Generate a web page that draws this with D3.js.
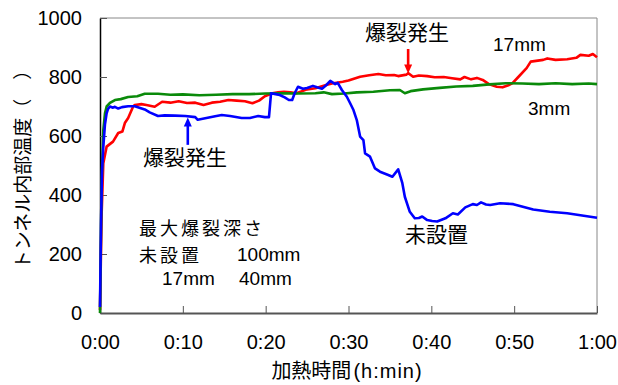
<!DOCTYPE html>
<html><head><meta charset="utf-8">
<script src="https://cdn.jsdelivr.net/npm/d3@7/dist/d3.min.js"></script>
<style>body{margin:0;background:#fff}svg{display:block}</style>
</head><body><svg id="c" width="618" height="385"></svg>
<script>
// time in minutes, temperature in °C
const blue = [[0,20],[0.12,300],[0.24,480],[0.4,564],[0.6,640],[0.8,677],[0.97,692],[1.2,700],[1.57,696],[1.8,699],[2.2,693],[2.66,698],[3.4,701],[4.2,701],[5.4,690],[6.0,680],[7.0,668],[7.8,670],[9.05,669],[10.3,668],[11.5,664],[11.8,655],[12.7,660],[13.9,667],[14.7,671],[15.7,668],[17.1,661],[18.1,661],[19.1,668],[19.9,664],[20.4,664],[20.65,745],[21.2,742],[21.7,739],[22.3,731],[22.8,722],[23.2,722],[23.5,745],[23.9,767],[24.5,760],[25.0,763],[25.7,770],[26.2,765],[26.8,760],[27.3,772],[27.8,787],[28.4,776],[28.7,780],[29.2,756],[29.8,733],[30.2,711],[30.6,688],[31.0,654],[31.4,598],[31.8,586],[32.0,541],[32.6,530],[33.2,490],[33.8,479],[34.8,468],[35.3,462],[36.0,487],[36.5,440],[36.8,394],[37.4,343],[38.0,321],[38.5,322],[38.9,327],[39.5,315],[40.1,312],[40.7,310],[41.7,321],[42.6,338],[43.2,334],[44.1,358],[45.0,369],[45.5,366],[46.0,375],[46.6,368],[47.1,366],[48.3,372],[49.9,369],[52.3,351],[54.3,343],[56.4,338],[60,323]];
const red = [[0,10],[0.2,338],[0.4,508],[0.8,564],[1.57,581],[2.2,610],[2.7,615],[3.0,644],[3.4,661],[4.0,700],[4.2,705],[5.0,708],[5.6,705],[6.6,699],[7.5,716],[8.5,713],[9.5,718],[10.5,712],[11.5,713],[12.5,705],[13.5,713],[14.5,716],[15.5,722],[16.5,720],[17.5,718],[18.4,711],[19.2,720],[19.9,735],[20.8,745],[21.5,748],[22.2,750],[23.0,748],[23.7,745],[25.0,758],[26.0,762],[27.3,773],[28.0,778],[29.3,784],[30.0,788],[31.4,801],[32.5,806],[33.6,810],[34.5,806],[35.5,807],[36.0,803],[37.0,808],[37.2,813],[37.8,801],[38.5,805],[39.5,803],[40.4,799],[41.5,800],[42.5,796],[43.5,792],[44.0,800],[44.8,792],[45.5,797],[46.2,790],[47.0,775],[47.9,767],[48.6,765],[49.3,772],[49.8,779],[50.5,800],[51.5,830],[52.0,852],[53.5,858],[54.0,863],[55.0,858],[56.4,860],[57.5,865],[58.0,875],[59.0,872],[59.5,878],[60.0,867]];
const green = [[0,0],[0.2,450],[0.4,620],[0.6,677],[0.8,700],[1.2,712],[1.8,722],[2.5,725],[3.4,732],[4.5,735],[5.4,743],[7,743],[8.5,740],[10,741],[12,738],[14,740],[16,742],[18,742],[20,744],[22,745],[24,744],[26,745],[27,748],[28,742],[29.5,744],[31,748],[33,750],[35,755],[36.2,756],[36.8,745],[37.5,752],[39,758],[41,763],[43,768],[45,770],[47,775],[49,779],[51,778],[53,776],[55,779],[57,776],[59,778],[60,776]];
const xTicks = [0,10,20,30,40,50,60];
const xTickLabels = ["0:00","0:10","0:20","0:30","0:40","0:50","1:00"];
const yTicks = [0,200,400,600,800,1000];
const yTickLabels = ["0","200","400","600","800","1000"];
const yLabel = "トンネル内部温度（　）";
const xLabelMain = "加熱時間";
const xLabelUnit = "(h:min)";
const legendLines = ["最大爆裂深さ","未設置","100mm","17mm","40mm"];
const labels = {burstBlue:"爆裂発生", burstRed:"爆裂発生", s17:"17mm", s3:"3mm", none:"未設置"};

const svg = d3.select("#c");
const L=100,R=597,T=18,B=313;
const x = d3.scaleLinear().domain([0,60]).range([L,R]);
const y = d3.scaleLinear().domain([0,1000]).range([B,T]);
const lat = "'Liberation Sans', Arial, sans-serif";
const cjk = "'Noto Sans CJK JP', sans-serif";

// frame
svg.append("line").attr("x1",L).attr("x2",R).attr("y1",T).attr("y2",T).attr("stroke","#888").attr("stroke-width",1);
svg.append("line").attr("x1",R).attr("x2",R).attr("y1",T).attr("y2",B).attr("stroke","#888").attr("stroke-width",1);

// y axis
const ya = svg.append("g").attr("transform",`translate(${L},0)`)
  .call(d3.axisLeft(y).tickValues(yTicks).tickFormat((d,i)=>yTickLabels[i]).tickSizeInner(-7).tickSizeOuter(0).tickPadding(18));
ya.select(".domain").attr("stroke","#000").attr("stroke-width",1.5);
ya.selectAll(".tick line").attr("stroke","#555");
ya.selectAll(".tick text").attr("font-family",lat).attr("font-size",20).attr("fill","#000");
// x axis
const xa = svg.append("g").attr("transform",`translate(0,${B})`)
  .call(d3.axisBottom(x).tickValues(xTicks).tickFormat((d,i)=>xTickLabels[i]).tickSizeInner(-7).tickSizeOuter(0).tickPadding(22));
xa.select(".domain").attr("stroke","#555").attr("stroke-width",2);
xa.selectAll(".tick line").attr("stroke","#555");
xa.selectAll(".tick text").attr("font-family",lat).attr("font-size",20).attr("fill","#000");

// lines
const line = d3.line().x(d=>x(d[0])).y(d=>y(d[1]));
[[red,"#ff0000"],[green,"#0a8a0a"],[blue,"#0000ff"]].forEach(([d,c])=>{
  svg.append("path").datum(d).attr("d",line).attr("fill","none").attr("stroke",c).attr("stroke-width",2.6).attr("stroke-linejoin","round");
});

// arrows
function arrow(xm, t0, t1, color){
  const X=x(xm), Y0=y(t0), Y1=y(t1);
  const dir = Y1<Y0 ? 1 : -1;
  svg.append("line").attr("x1",X).attr("x2",X).attr("y1",Y0).attr("y2",Y1+dir*6).attr("stroke",color).attr("stroke-width",2.6);
  svg.append("path").attr("d",`M${X},${Y1} L${X-4},${Y1+dir*9} L${X+4},${Y1+dir*9} Z`).attr("fill",color);
}
arrow(10.6, 570, 663, "#0000ff");
arrow(37.2, 895, 812, "#ff0000");

function txt(s,X,Y,fam,size,ls){
  svg.append("text").attr("x",X).attr("y",Y).attr("font-family",fam).attr("font-size",size).attr("letter-spacing",ls||0).attr("fill","#000").text(s);
}
txt(labels.burstBlue,143,165,cjk,21);
txt(labels.burstRed,365,40,cjk,21);
txt(labels.s17,493,51,lat,19);
txt(labels.s3,528,115,lat,19);
txt(labels.none,405,242,cjk,21);

// legend block
txt(legendLines[0],139,235,cjk,18,3);
txt(legendLines[1],139,262,cjk,18,3);
txt(legendLines[2],237,261,lat,19);
txt(legendLines[3],162,285,lat,19);
txt(legendLines[4],239,285,lat,19);

// axis titles
svg.append("text").attr("transform","translate(30,165) rotate(-90)").attr("text-anchor","middle")
  .attr("font-family",cjk).attr("font-size",19).attr("fill","#000").text(yLabel);
const xl = svg.append("text").attr("x",347).attr("y",378).attr("text-anchor","middle").attr("font-family",cjk).attr("font-size",20).attr("fill","#000");
xl.append("tspan").text(xLabelMain);
xl.append("tspan").attr("font-family",lat).attr("dx",2).attr("letter-spacing",1).text(xLabelUnit);
</script></body></html>
